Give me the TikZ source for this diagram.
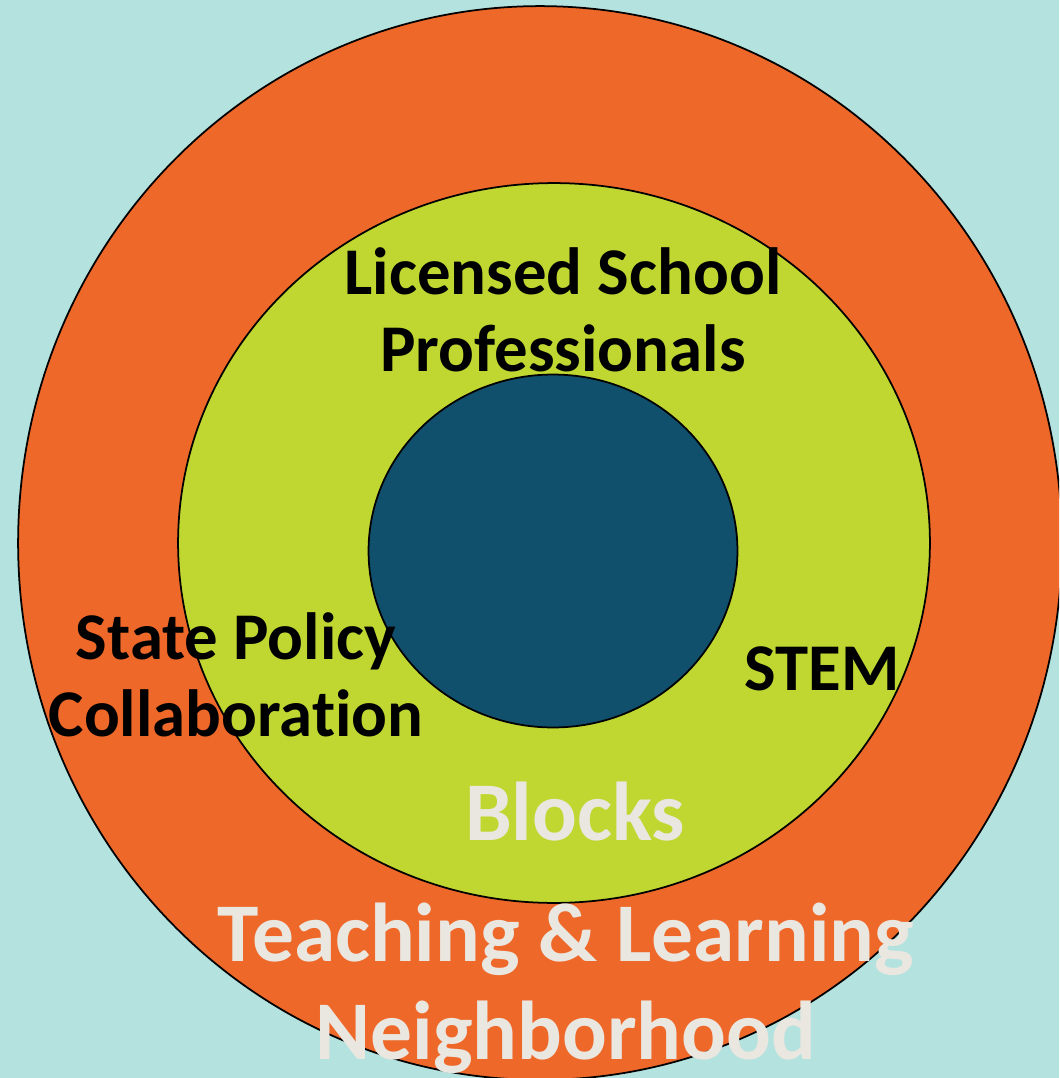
\documentclass[tikz,border=0pt]{standalone}
\usepackage{fontspec}
\setmainfont[Ligatures=NoCommon]{Carlito}
\usepackage{tikz}
\usetikzlibrary{shapes.geometric,positioning}
\definecolor{BgTeal}{RGB}{179, 226, 223}
\definecolor{RingOrange}{RGB}{238, 104, 41}
\definecolor{RingGreen}{RGB}{192, 215, 50}
\definecolor{CoreBlue}{RGB}{16, 80, 109}
\definecolor{PaleText}{RGB}{234, 230, 224}
\tikzstyle{ring} = [ellipse, draw=black, line width=1pt, inner sep=0pt]
\tikzstyle{darklabel} = [text=black, font=\bfseries\fontsize{38}{44}\selectfont, align=center]
\tikzstyle{palelabel} = [text=PaleText, font=\bfseries\fontsize{47.5}{56}\selectfont, align=center]
\begin{document}
\begin{tikzpicture}[x=0.02cm, y=-0.02cm]

% Fond
\useasboundingbox (0,0) rectangle (1059,1078);
\clip (0,0) rectangle (1059,1078);
\fill [BgTeal] (0,0) rectangle (1059,1078);

% Anneaux
\node (outer) [ring, fill=RingOrange, minimum width=20.88cm, minimum height=21.48cm] at (540,543) {};
\node (middle) [ring, fill=RingGreen, minimum width=15.04cm, minimum height=14.4cm] at (554,543) {};
\node (core) [ring, fill=CoreBlue, minimum width=7.38cm, minimum height=7.06cm] at (553,551) {};

% Textes
\node (licensed) [darklabel] at (563,310) {Licensed School\\Professionals};
\node (state) [darklabel] at (236,675) {State Policy\\Collaboration};
\node (stem) [darklabel] at (822,669) {STEM};
\node (blocks) [palelabel] at (575,812) {Blocks};
\node (teaching) [palelabel] at (566,988) {Teaching \& Learning\\Neighborhood};

\end{tikzpicture}
\end{document}
